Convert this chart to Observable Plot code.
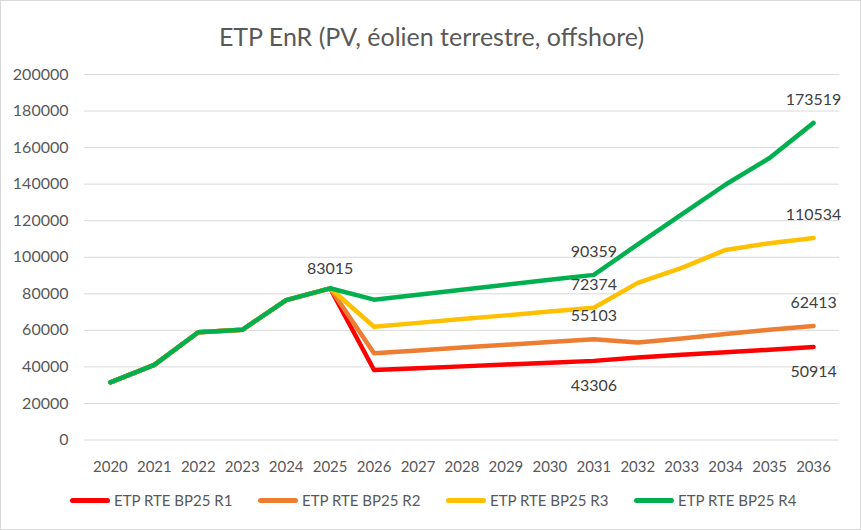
<!DOCTYPE html>
<html>
<head>
<meta charset="utf-8">
<script src="https://cdn.jsdelivr.net/npm/d3@7"></script>
<script src="https://cdn.jsdelivr.net/npm/@observablehq/plot@0.6"></script>
<style>
  html, body { margin: 0; padding: 0; background: #fff; }
  #frame { position: relative; width: 861px; height: 530px; box-sizing: border-box; border: 1px solid #d9d9d9; overflow: hidden; font-family: Lato, "Liberation Sans", sans-serif; }
  #title { position: absolute; left: 0; width: 861px; top: 20px; text-align: center; font-size: 25px; color: #595959; }
  #chart { position: absolute; left: -1px; top: 49px; }
  #legend { position: absolute; top: 490px; left: 69px; display: flex; font-size: 15px; color: #595959; }
  .item { display: flex; align-items: center; width: 188px; }
  .sw { width: 40px; height: 5px; border-radius: 3px; margin-right: 4px; }
</style>
</head>
<body>
<div id="frame">
  <div id="title">ETP EnR (PV, éolien terrestre, offshore)</div>
  <div id="chart"></div>
  <div id="legend"></div>
</div>
<script>
const years = [2020, 2021, 2022, 2023, 2024, 2025, 2026, 2027, 2028, 2029, 2030, 2031, 2032, 2033, 2034, 2035, 2036];
const seriesNames = ["ETP RTE BP25 R1", "ETP RTE BP25 R2", "ETP RTE BP25 R3", "ETP RTE BP25 R4"];
const seriesColors = ["#ff0000", "#ed7d31", "#ffc000", "#00b050"];
const common = [31500, 41100, 59000, 60300, 76500, 83015];
const r1 = [...common, 38300, 39300, 40300, 41300, 42300, 43306, 45200, 46600, 48000, 49400, 50914];
const r2 = [...common, 47500, 49000, 50600, 52100, 53600, 55103, 53300, 55600, 58000, 60300, 62413];
const r3 = [...common, 62000, 64100, 66200, 68200, 70300, 72374, 86000, 94200, 104000, 107700, 110534];
const r4 = [...common, 76800, 79500, 82200, 85000, 87700, 90359, 107000, 123500, 139800, 154300, 173519];
const seriesValues = [r1, r2, r3, r4];
const yTicks = [0, 20000, 40000, 60000, 80000, 100000, 120000, 140000, 160000, 180000, 200000];
// labelled points: [series index, year]
const labelled = [[3, 2025], [3, 2031], [2, 2031], [1, 2031], [0, 2031], [3, 2036], [2, 2036], [1, 2036], [0, 2036]];

const rows = [];
seriesValues.forEach((vals, s) => vals.forEach((v, i) => rows.push({serie: seriesNames[s], s, year: String(years[i]), value: v})));
const labels = labelled.map(([s, y]) => ({s, year: String(y), value: seriesValues[s][years.indexOf(y)]}));
const below = labels.filter(d => d.s === 0);
const first = labels.filter(d => d.s !== 0 && d.year === "2025");
const above = labels.filter(d => d.s !== 0 && d.year !== "2025");
const lbl = (data, dy) => Plot.text(data, {x: "year", y: "value", text: d => String(d.value), fill: "#404040", fontSize: 16, dy});

const chart = Plot.plot({
  width: 861,
  height: 431,
  marginLeft: 84,
  marginRight: 21,
  marginTop: 24,
  marginBottom: 41,
  style: {fontFamily: "Lato, 'Liberation Sans', sans-serif", fontSize: "15px", color: "#595959", background: "transparent"},
  x: {type: "point", domain: years.map(String), padding: 0.5, label: null},
  y: {domain: [0, 200000], label: null},
  color: {domain: seriesNames, range: seriesColors},
  marks: [
    Plot.ruleY(yTicks, {stroke: "#d9d9d9", strokeWidth: 1}),
    Plot.axisY({ticks: yTicks, tickSize: 0, tickPadding: 16, tickFormat: d3.format("d"), fontSize: 16, fill: "#595959", label: null}),
    Plot.axisX({tickSize: 0, tickPadding: 21, fontSize: 15, fill: "#595959", label: null}),
    Plot.line(rows, {x: "year", y: "value", z: "serie", stroke: "serie", strokeWidth: 4.5, strokeLinejoin: "round", strokeLinecap: "round"}),
    lbl(below, 25),
    lbl(first, -19),
    lbl(above, -23)
  ]
});
document.getElementById("chart").appendChild(chart);

const legend = document.getElementById("legend");
seriesNames.forEach((n, i) => {
  const it = document.createElement("div");
  it.className = "item";
  it.innerHTML = `<span class="sw" style="background:${seriesColors[i]}"></span><span>${n}</span>`;
  legend.appendChild(it);
});
</script>
</body>
</html>
